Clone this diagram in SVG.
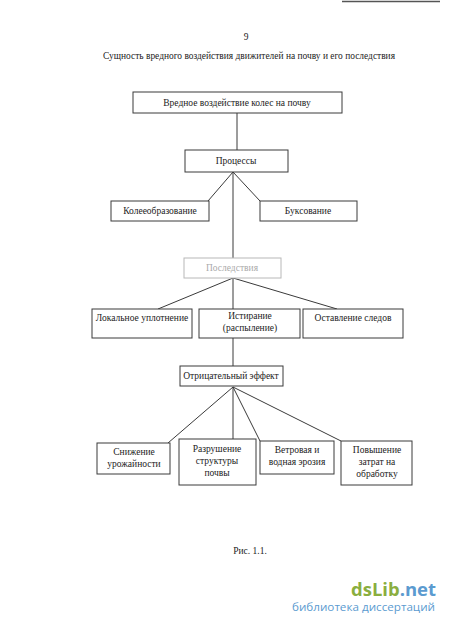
<svg xmlns="http://www.w3.org/2000/svg" width="450" height="627" viewBox="0 0 450 627">
<style>
.box{fill:#fff;stroke:#3a3a3a;stroke-width:1}
.faded{fill:#fff;stroke:#b8b8b8;stroke-width:1}
.t{font-family:"Liberation Serif","Times New Roman",serif;font-size:9.5px;fill:#222;text-anchor:middle}
.tf{font-family:"Liberation Serif","Times New Roman",serif;font-size:9.5px;fill:#aaa;text-anchor:middle}
.c{stroke:#3a3a3a;stroke-width:1;fill:none}
</style>
<rect width="450" height="627" fill="#fff"/>
<line x1="342" y1="1.5" x2="440" y2="1.5" stroke="#555" stroke-width="1.5"/>
<text x="246" y="40" class="t" font-size="7">9</text>
<text x="249" y="59" class="t" font-size="10" textLength="292" lengthAdjust="spacingAndGlyphs">Сущность вредного воздействия движителей на почву и его последствия</text>

<g id="connectors">
<line class="c" x1="237" y1="113" x2="237" y2="150"/>
<line class="c" x1="233" y1="172" x2="208" y2="201"/>
<line class="c" x1="233" y1="172" x2="260" y2="201"/>
<line class="c" x1="233" y1="172" x2="233" y2="258"/>
<line class="c" x1="233" y1="278" x2="158" y2="309"/>
<line class="c" x1="233" y1="278" x2="233" y2="309"/>
<line class="c" x1="233" y1="278" x2="337" y2="309"/>
<line class="c" x1="233" y1="338" x2="233" y2="366"/>
<line class="c" x1="233" y1="387" x2="168" y2="443"/>
<line class="c" x1="233" y1="387" x2="233" y2="439"/>
<line class="c" x1="233" y1="387" x2="260" y2="441"/>
<line class="c" x1="233" y1="387" x2="341" y2="441"/>
</g>

<g id="n1"><rect class="box" x="133" y="92" width="209" height="21"/><text class="t" x="237" y="106">Вредное воздействие колес на почву</text></g>
<g id="n2"><rect class="box" x="185" y="150" width="103" height="22"/><text class="t" x="236" y="164">Процессы</text></g>
<g id="n3"><rect class="box" x="111" y="201" width="98" height="20"/><text class="t" x="160" y="214">Колееобразование</text></g>
<g id="n4"><rect class="box" x="260" y="201" width="97" height="20"/><text class="t" x="308" y="214">Буксование</text></g>
<g id="n5"><rect class="faded" x="184" y="258" width="97" height="20"/><text class="tf" x="232" y="271">Последствия</text></g>
<g id="n6"><rect class="box" x="92" y="309" width="100" height="29"/><text class="t" x="142" y="321">Локальное уплотнение</text></g>
<g id="n7"><rect class="box" x="199" y="309" width="101" height="29"/><text class="t" x="250" y="319">Истирание</text><text class="t" x="250" y="331">(распыление)</text></g>
<g id="n8"><rect class="box" x="303" y="309" width="100" height="29"/><text class="t" x="353" y="321">Оставление следов</text></g>
<g id="n9"><rect class="box" x="180" y="366" width="103" height="20"/><text class="t" x="231" y="379">Отрицательный эффект</text></g>
<g id="n10"><rect class="box" x="97" y="443" width="73" height="31"/><text class="t" x="134" y="455">Снижение</text><text class="t" x="134" y="467">урожайности</text></g>
<g id="n11"><rect class="box" x="179" y="439" width="77" height="46"/><text class="t" x="217" y="452">Разрушение</text><text class="t" x="217" y="464">структуры</text><text class="t" x="217" y="476">почвы</text></g>
<g id="n12"><rect class="box" x="260" y="441" width="74" height="33"/><text class="t" x="297" y="453">Ветровая и</text><text class="t" x="297" y="465">водная эрозия</text></g>
<g id="n13"><rect class="box" x="341" y="441" width="71" height="44"/><text class="t" x="377" y="453">Повышение</text><text class="t" x="377" y="465">затрат на</text><text class="t" x="377" y="477">обработку</text></g>

<text class="t" x="250" y="554">Рис. 1.1.</text>
<text x="436" y="596" text-anchor="end" font-family="'Open Sans','DejaVu Sans',sans-serif" font-weight="bold" font-size="18" textLength="85" lengthAdjust="spacingAndGlyphs"><tspan fill="#8aae3f">dsLib</tspan><tspan fill="#5b9bd0">.net</tspan></text>
<text x="435" y="611" text-anchor="end" font-family="'Open Sans','DejaVu Sans',sans-serif" font-size="11.5" fill="#5b9bd0" textLength="143" lengthAdjust="spacingAndGlyphs">библиотека диссертаций</text>
</svg>
